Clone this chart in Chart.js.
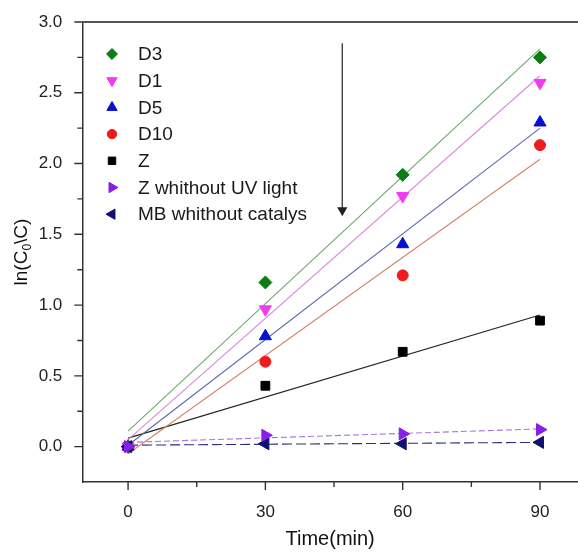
<!DOCTYPE html>
<html><head><meta charset="utf-8">
<script src="https://cdn.jsdelivr.net/npm/chart.js@4.4.0/dist/chart.umd.min.js"></script>
<style>html,body{margin:0;padding:0;background:#fff}#wrap{width:578px;height:553px;position:relative}</style>
</head><body><div id="wrap"><canvas id="c"></canvas></div>
<script>
// ---- data ----
const times = [0, 30, 60, 90];
const seriesNames = ['D3', 'D1', 'D5', 'D10', 'Z', 'Z whithout UV light', 'MB whithout catalys'];
const d3 = [0, 1.16, 1.92, 2.75];
const d1 = [0, 0.97, 1.77, 2.57];
const d5 = [0, 0.78, 1.43, 2.29];
const d10 = [0, 0.60, 1.21, 2.13];
const z = [0, 0.43, 0.67, 0.89];
const zNoUV = [0, 0.08, 0.09, 0.12];
const mbNoCat = [0, 0.02, 0.02, 0.03];
// fitted straight lines: values at t = 0 and t = 90
const fitTimes = [0, 90];
const fitD3 = [0.11, 2.81];
const fitD1 = [0.05, 2.62];
const fitD5 = [0.01, 2.25];
const fitD10 = [-0.05, 2.03];
const fitZ = [0.06, 0.93];
const fitZNoUV = [0.03, 0.125];
const fitMB = [0.01, 0.03];
// arrow annotation
const arrowT = [46.8, 46.8];
const arrowV = [2.85, 1.67];
// ticks
const xTicks = [0, 30, 60, 90];
const xMinor = [15, 45, 75];
const yTicks = [0, 0.5, 1.0, 1.5, 2.0, 2.5, 3.0];
const yMinor = [0.25, 0.75, 1.25, 1.75, 2.25, 2.75];

const FONT = "'Liberation Sans', Arial, sans-serif";
const pts = (xs, ys) => xs.map((x, i) => ({x: x, y: ys[i]}));

const markerStyles = [
  {c: '#0b7d14', s: 'rectRot', r: 6.5, rot: 0},
  {c: '#f03cf0', s: 'triangle', r: 7, rot: 180},
  {c: '#0a10d0', s: 'triangle', r: 7, rot: 0},
  {c: '#ee1c1c', s: 'circle', r: 5.5, rot: 0},
  {c: '#000000', s: 'rect', r: 6.2, rot: 0},
  {c: '#8a1ee8', s: 'triangle', r: 7, rot: 90},
  {c: '#12106e', s: 'triangle', r: 7, rot: 270}
];
const seriesData = [d3, d1, d5, d10, z, zNoUV, mbNoCat];
const drawOrder = [2, 3, 4, 5, 6, 0, 1];

const datasets = seriesData.map((vals, i) => ({
  type: 'scatter',
  label: seriesNames[i],
  data: pts(times, vals),
  showLine: false,
  pointStyle: markerStyles[i].s,
  pointRadius: markerStyles[i].r,
  pointRotation: markerStyles[i].rot,
  backgroundColor: markerStyles[i].c,
  borderColor: markerStyles[i].c,
  borderWidth: 1,
  order: drawOrder[i],
  isMarker: true
}));

const fits = [
  [fitD3, '#6aa86a', []],
  [fitD1, '#d98ad9', []],
  [fitD5, '#5a68a8', []],
  [fitD10, '#d4856c', []],
  [fitZ, '#222222', []],
  [fitZNoUV, '#a777d8', [6, 3]],
  [fitMB, '#2c2c78', [10, 4]]
];
fits.forEach(f => datasets.push({
  type: 'line',
  label: '',
  data: pts(fitTimes, f[0]),
  borderColor: f[1],
  borderWidth: 1.1,
  borderDash: f[2],
  pointRadius: 0,
  tension: 0,
  order: 10
}));
datasets.push({
  type: 'line',
  label: '',
  data: pts(arrowT, arrowV),
  borderColor: '#444',
  borderWidth: 1.4,
  pointRadius: [0, 4.5],
  pointStyle: 'triangle',
  pointRotation: 180,
  pointBackgroundColor: '#222',
  pointBorderColor: '#222',
  tension: 0,
  order: 9
});

const tickPlugin = {
  id: 'customTicks',
  afterDraw(chart) {
    const ctx = chart.ctx, xs = chart.scales.x, ys = chart.scales.y, a = chart.chartArea;
    ctx.save();
    ctx.strokeStyle = '#333';
    ctx.lineWidth = 1.4;
    ctx.beginPath();
    xTicks.forEach(v => { const p = xs.getPixelForValue(v); ctx.moveTo(p, a.bottom); ctx.lineTo(p, a.bottom + 8); });
    xMinor.forEach(v => { const p = xs.getPixelForValue(v); ctx.moveTo(p, a.bottom); ctx.lineTo(p, a.bottom + 5); });
    yTicks.forEach(v => { const p = ys.getPixelForValue(v); ctx.moveTo(a.left, p); ctx.lineTo(a.left - 8, p); });
    yMinor.forEach(v => { const p = ys.getPixelForValue(v); ctx.moveTo(a.left, p); ctx.lineTo(a.left - 5, p); });
    ctx.stroke();
    // top frame
    ctx.strokeStyle = '#555';
    ctx.lineWidth = 2;
    ctx.beginPath(); ctx.moveTo(a.left, a.top); ctx.lineTo(a.right, a.top); ctx.stroke();
    // y title with subscript
    ctx.fillStyle = '#111';
    ctx.translate(22, 252);
    ctx.rotate(-Math.PI / 2);
    const big = '19px ' + FONT, small = '12px ' + FONT;
    ctx.font = big; const w1 = ctx.measureText('ln(C').width; const w3 = ctx.measureText('\\C)').width;
    ctx.font = small; const w2 = ctx.measureText('0').width;
    let x0 = -(w1 + w2 + w3) / 2;
    ctx.textBaseline = 'middle';
    ctx.textAlign = 'left';
    ctx.font = big; ctx.fillText('ln(C', x0, 0);
    ctx.font = small; ctx.fillText('0', x0 + w1, 6);
    ctx.font = big; ctx.fillText('\\C)', x0 + w1 + w2, 0);
    ctx.restore();

    // legend inside plot
    ctx.save();
    ctx.font = '19px ' + FONT;
    ctx.textBaseline = 'middle';
    chart.data.datasets.filter(d => d.isMarker).forEach((d, i) => {
      const y = 54 + i * 26.7;
      ctx.fillStyle = d.backgroundColor;
      ctx.strokeStyle = d.borderColor;
      ctx.lineWidth = 1;
      Chart.helpers.drawPoint(ctx, {pointStyle: d.pointStyle, radius: d.pointRadius * 0.85, rotation: d.pointRotation, borderWidth: 1}, 112, y);
      ctx.fillStyle = '#1a1a1a';
      ctx.fillText(d.label, 138, y + 1);
    });
    ctx.restore();
  }
};

new Chart(document.getElementById('c'), {
  data: {datasets: datasets},
  options: {
    responsive: true,
    maintainAspectRatio: false,
    animation: false,
    layout: {autoPadding: false, padding: {top: 22, right: 0, left: 0, bottom: 0}},
    plugins: {legend: {display: false}, tooltip: {enabled: false}},
    scales: {
      x: {
        type: 'linear',
        min: -10, max: 98.3,
        afterBuildTicks: s => { s.ticks = xTicks.map(v => ({value: v})); },
        afterFit: s => { s.height = 71; s.paddingRight = 0; s.paddingLeft = 0; },
        grid: {display: false},
        border: {display: true, color: '#333', width: 1.5},
        ticks: {font: {family: FONT, size: 17}, color: '#222', padding: 12, maxRotation: 0,
                callback: v => String(v)},
        title: {display: true, text: 'Time(min)', font: {family: FONT, size: 20}, color: '#111', padding: {top: 0, bottom: 2}}
      },
      y: {
        type: 'linear',
        min: -0.25, max: 3.0,
        afterBuildTicks: s => { s.ticks = yTicks.map(v => ({value: v})); },
        afterFit: s => { s.width = 82.3; s.paddingTop = 0; s.paddingBottom = 0; },
        grid: {display: false},
        border: {display: true, color: '#333', width: 1.5},
        ticks: {font: {family: FONT, size: 17}, color: '#222', padding: 12,
                callback: v => Number(v).toFixed(1)}
      }
    }
  },
  plugins: [tickPlugin]
});
</script>
</body></html>
